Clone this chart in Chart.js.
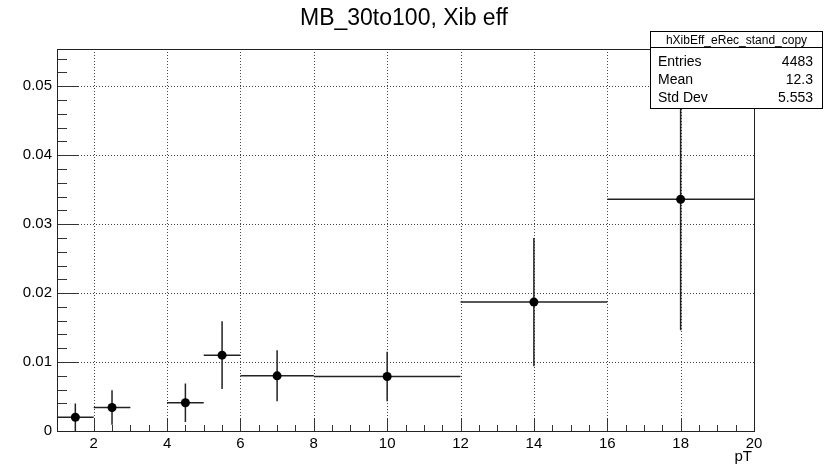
<!DOCTYPE html>
<html>
<head>
<meta charset="utf-8">
<script src="https://cdn.jsdelivr.net/npm/chart.js@4/dist/chart.umd.min.js"></script>
<style>
  html, body { margin: 0; padding: 0; background: #fff; }
  #wrap { width: 834px; height: 469px; }
</style>
</head>
<body>
<div id="wrap"><canvas id="effChart" width="834" height="469"></canvas></div>
<script>
// данные гистограммы (пустой бин 3-4 не рисуется)
const binLow = [1, 2, 4, 5, 6, 8, 12, 16];
const binHigh = [2, 3, 5, 6, 8, 12, 16, 20];
const effValues = [0.0020, 0.0034, 0.0041, 0.0110, 0.0080, 0.0079, 0.0187, 0.0336];
const effErrors = [0.0020, 0.0025, 0.0028, 0.0049, 0.0037, 0.0036, 0.0093, 0.0190];

const xTickValues = [2, 4, 6, 8, 10, 12, 14, 16, 18, 20];
const yTickValues = [0, 0.01, 0.02, 0.03, 0.04, 0.05];

const titleText = 'MB_30to100, Xib eff';
const statsName = 'hXibEff_eRec_stand_copy';
const statsLabels = ['Entries', 'Mean', 'Std Dev'];
const statsValues = ['4483', '12.3', '5.553'];

const FONT = '"Liberation Sans", Arial, Helvetica, sans-serif';

// точки в центрах бинов
const points = binLow.map((lo, i) => ({ x: (lo + binHigh[i]) / 2, y: effValues[i] }));

// сетка, рамка, засечки (ROOT-стиль, засечки внутрь)
const framePlugin = {
    id: 'frame',
    beforeDatasetsDraw(chart) {
        const { ctx, chartArea: a, scales: { x, y } } = chart;
        ctx.save();
        // пунктирная сетка
        ctx.strokeStyle = '#444';
        ctx.lineWidth = 1;
        ctx.setLineDash([1, 2]);
        xTickValues.forEach(v => {
            if (v >= 20) return;
            const px = Math.round(x.getPixelForValue(v)) + 0.5;
            ctx.beginPath(); ctx.moveTo(px, a.top); ctx.lineTo(px, a.bottom); ctx.stroke();
        });
        yTickValues.forEach(v => {
            if (v === 0) return;
            const py = Math.round(y.getPixelForValue(v)) + 0.5;
            ctx.beginPath(); ctx.moveTo(a.left, py); ctx.lineTo(a.right, py); ctx.stroke();
        });
        ctx.setLineDash([]);

        // засечки X
        ctx.strokeStyle = '#333';
        for (let v = 1.5; v < 20; v += 0.5) {
            const major = Math.abs(v % 2) < 1e-9;
            const px = Math.round(x.getPixelForValue(v)) + 0.5;
            ctx.beginPath();
            ctx.moveTo(px, a.bottom);
            ctx.lineTo(px, a.bottom - (major ? 13 : 6));
            ctx.stroke();
        }
        // засечки Y
        for (let k = 1; k <= 27; k++) {
            const v = k * 0.002;
            if (v > y.max) break;
            const major = k % 5 === 0;
            const py = Math.round(y.getPixelForValue(v)) + 0.5;
            ctx.beginPath();
            ctx.moveTo(a.left, py);
            ctx.lineTo(a.left + (major ? 22 : 10), py);
            ctx.stroke();
        }

        // рамка
        ctx.strokeStyle = '#222';
        ctx.strokeRect(Math.round(a.left) + 0.5, Math.round(a.top) + 0.5,
            Math.round(a.right - a.left), Math.round(a.bottom - a.top));

        // планки ошибок
        ctx.beginPath();
        ctx.rect(a.left, a.top, a.right - a.left, a.bottom - a.top);
        ctx.clip();
        ctx.strokeStyle = '#222';
        ctx.lineWidth = 1.5;
        binLow.forEach((lo, i) => {
            const cx = x.getPixelForValue(points[i].x);
            const cy = y.getPixelForValue(effValues[i]);
            ctx.beginPath();
            ctx.moveTo(x.getPixelForValue(lo), cy);
            ctx.lineTo(x.getPixelForValue(binHigh[i]), cy);
            ctx.moveTo(cx, y.getPixelForValue(effValues[i] - effErrors[i]));
            ctx.lineTo(cx, y.getPixelForValue(effValues[i] + effErrors[i]));
            ctx.stroke();
        });
        ctx.restore();
    },
    afterDraw(chart) {
        const { ctx, chartArea: a } = chart;
        ctx.save();
        // заголовок
        ctx.fillStyle = '#000';
        ctx.font = '23px ' + FONT;
        ctx.textAlign = 'center';
        ctx.textBaseline = 'alphabetic';
        ctx.fillText(titleText, 404, 25);

        // подпись оси X
        ctx.font = '15px ' + FONT;
        ctx.textAlign = 'right';
        ctx.fillText('pT', a.right - 2, 461);

        // блок статистики
        const bx = 650.5, by = 31.5, bw = 172, bh = 77;
        ctx.fillStyle = '#fff';
        ctx.fillRect(bx, by, bw, bh);
        ctx.strokeStyle = '#000';
        ctx.lineWidth = 1;
        ctx.strokeRect(bx, by, bw, bh);
        ctx.beginPath(); ctx.moveTo(bx, 47.5); ctx.lineTo(bx + bw, 47.5); ctx.stroke();
        ctx.fillStyle = '#000';
        ctx.font = '12px ' + FONT;
        ctx.textAlign = 'center';
        ctx.fillText(statsName, bx + bw / 2, 44);
        ctx.font = '14px ' + FONT;
        statsLabels.forEach((lab, i) => {
            const base = 66 + i * 18;
            ctx.textAlign = 'left';
            ctx.fillText(lab, 658, base);
            ctx.textAlign = 'right';
            ctx.fillText(statsValues[i], 813, base);
        });
        ctx.restore();
    }
};

document.addEventListener('DOMContentLoaded', function() {
    const ctx = document.getElementById('effChart').getContext('2d');
    new Chart(ctx, {
        type: 'scatter',
        data: {
            datasets: [{
                label: 'eff',
                data: points,
                pointRadius: 4.5,
                pointHoverRadius: 4.5,
                pointBackgroundColor: '#000',
                pointBorderColor: '#000',
                pointBorderWidth: 0,
                showLine: false
            }]
        },
        options: {
            responsive: false,
            animation: false,
            devicePixelRatio: 1,
            layout: { padding: { top: 49, right: 80, left: 0, bottom: 0 } },
            plugins: {
                legend: { display: false },
                tooltip: { enabled: false },
                title: { display: false }
            },
            scales: {
                x: {
                    type: 'linear',
                    min: 1,
                    max: 20,
                    grid: { display: false, drawTicks: false },
                    border: { display: false },
                    afterBuildTicks: s => { s.ticks = xTickValues.map(v => ({ value: v })); },
                    afterFit: s => { s.height = 38; },
                    ticks: {
                        padding: 4,
                        maxRotation: 0,
                        autoSkip: false,
                        color: '#000',
                        font: { family: FONT, size: 15 },
                        callback: v => String(v)
                    }
                },
                y: {
                    type: 'linear',
                    min: 0,
                    max: 0.0554,
                    grid: { display: false, drawTicks: false },
                    border: { display: false },
                    afterBuildTicks: s => { s.ticks = yTickValues.map(v => ({ value: v })); },
                    afterFit: s => { s.width = 57; },
                    ticks: {
                        padding: 5,
                        autoSkip: false,
                        color: '#000',
                        font: { family: FONT, size: 15 },
                        callback: v => v === 0 ? '0' : v.toFixed(2)
                    }
                }
            }
        },
        plugins: [framePlugin]
    });
});
</script>
</body>
</html>
